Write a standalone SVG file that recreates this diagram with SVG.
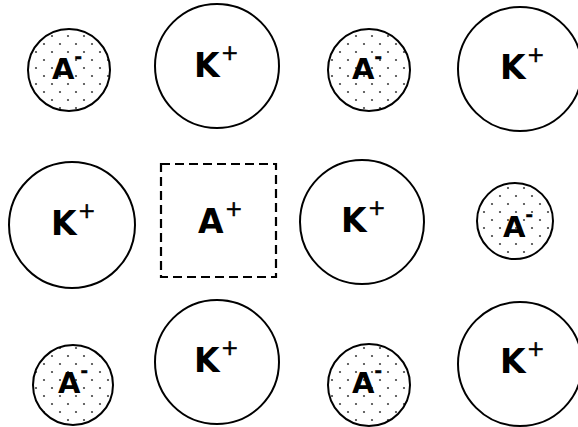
<svg xmlns="http://www.w3.org/2000/svg" width="578" height="427" viewBox="0 0 578 427">
<defs>
<pattern id="dots" patternUnits="userSpaceOnUse" width="16" height="16">
<rect width="16" height="16" fill="#fff"/>
<circle cx="4" cy="4" r="1.1" fill="#444"/>
<circle cx="12" cy="12" r="1.1" fill="#444"/>
</pattern>
<style>
.ion{fill:#fff;stroke:#000;stroke-width:2}
.an{fill:url(#dots);stroke:#000;stroke-width:2}
.box{fill:none;stroke:#000;stroke-width:2.2;stroke-dasharray:9 5}
.t{font-family:"DejaVu Sans",sans-serif;font-weight:bold;font-size:33px;fill:#000}
.ts{font-family:"DejaVu Sans",sans-serif;font-weight:bold;font-size:29px;fill:#000}
.sup{font-family:"DejaVu Sans",sans-serif;font-weight:bold;font-size:18px;fill:#000;stroke:#000;stroke-width:0.5}
.sp{font-family:"DejaVu Sans",sans-serif;font-size:21px;fill:#000;stroke:#000;stroke-width:0.6}
</style>
</defs>
<g id="a1"><circle class="an" cx="69" cy="70" r="41"/><text class="ts" x="52" y="79">A</text><text class="sup" x="74.5" y="63">-</text></g>
<g id="k1"><circle class="ion" cx="217" cy="66" r="62"/><text class="t" x="194" y="77">K</text><text class="sp" x="221" y="60">+</text></g>
<g id="a2"><circle class="an" cx="369" cy="70" r="41"/><text class="ts" x="352" y="79">A</text><text class="sup" x="374.5" y="63">-</text></g>
<g id="k2"><circle class="ion" cx="520" cy="69" r="62"/><text class="t" x="500" y="79">K</text><text class="sp" x="527" y="62">+</text></g>
<g id="k3"><circle class="ion" cx="72" cy="225" r="63"/><text class="t" x="51" y="235">K</text><text class="sp" x="78" y="218">+</text></g>
<g id="ap"><rect class="box" x="161" y="164" width="115" height="113"/><text class="t" x="198" y="233">A</text><text class="sp" x="225" y="216">+</text></g>
<g id="k4"><circle class="ion" cx="362" cy="222" r="62"/><text class="t" x="341" y="232">K</text><text class="sp" x="368" y="215">+</text></g>
<g id="a3"><circle class="an" cx="515" cy="221" r="38"/><text class="ts" x="503" y="237">A</text><text class="sup" x="525.5" y="221">-</text></g>
<g id="a4"><circle class="an" cx="73" cy="385" r="40"/><text class="ts" x="58" y="393">A</text><text class="sup" x="80.5" y="377">-</text></g>
<g id="k5"><circle class="ion" cx="217" cy="362" r="62"/><text class="t" x="194" y="372">K</text><text class="sp" x="221" y="355">+</text></g>
<g id="a5"><circle class="an" cx="369" cy="385" r="41"/><text class="ts" x="352" y="393">A</text><text class="sup" x="374.5" y="377">-</text></g>
<g id="k6"><circle class="ion" cx="520" cy="364" r="62"/><text class="t" x="500" y="373">K</text><text class="sp" x="527" y="356">+</text></g>
<g id="connectors"/>
</svg>
